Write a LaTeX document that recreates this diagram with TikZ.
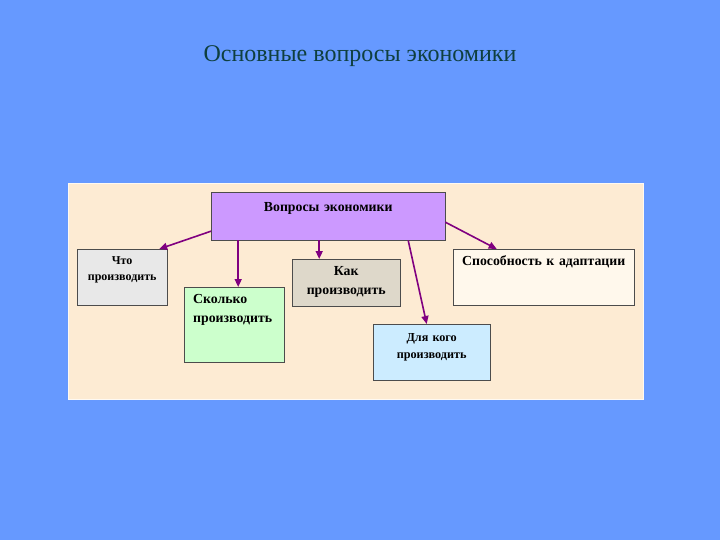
\documentclass[tikz,border=0pt]{standalone}
\usepackage{fontspec}
\setmainfont{Liberation Serif}
\usetikzlibrary{arrows.meta}
\definecolor{slidebg}{HTML}{6699FF}
\definecolor{panelbg}{HTML}{FDEBD3}
\definecolor{titlecol}{HTML}{0F3F3F}
\definecolor{arrcol}{HTML}{800080}

\begin{document}
\begin{tikzpicture}[
  x=1pt, y=-1pt,
  box/.style={
    draw=black!70,
    inner sep=0pt,
    align=center,
    anchor=north west,
    font=\bfseries\fontsize{13.8}{19}\selectfont
  },
  mainbox/.style={box, fill={rgb,255:red,204;green,153;blue,255}},
  chtobox/.style={box, fill=black!9},
  skolkobox/.style={box, fill={rgb,255:red,204;green,255;blue,204}},
  kakbox/.style={box, fill={rgb,255:red,222;green,216;blue,202}},
  dlyabox/.style={box, fill={rgb,255:red,204;green,236;blue,255}},
  adaptbox/.style={box, fill={rgb,255:red,255;green,248;blue,236}},
  arr/.style={
    -{Triangle[length=8pt,width=7pt]},
    line width=1.6pt,
    draw=arrcol
  }
]
\useasboundingbox (0,0) rectangle (720,540);
\fill[slidebg] (0,0) rectangle (720,540);

% Title
\node[text=titlecol, font=\fontsize{24}{28}\selectfont] (title) at (360,56)
  {Основные вопросы экономики};

% Panel
\draw[white!70!panelbg, fill=panelbg] (68,183) rectangle (643,399);

% Boxes
\node[mainbox, text width=234pt, text height=19pt, text depth=29pt] (main)
  at (211,192) {Вопросы экономики};
\node[chtobox, text width=90pt, text height=15pt, text depth=41pt,
  font=\bfseries\fontsize{12}{16}\selectfont] (chto)
  at (77,249) {Что\\производить};
\node[skolkobox, align=left, inner xsep=9pt, text width=82pt,
  text height=16pt, text depth=59pt] (skolko)
  at (184,287) {Сколько\\производить};
\node[kakbox, text width=108pt, text height=16pt, text depth=31pt] (kak)
  at (292,259) {Как\\производить};
\node[dlyabox, text width=117pt, text height=17pt, text depth=39pt,
  font=\bfseries\fontsize{12.2}{17}\selectfont] (dlya)
  at (373,324) {Для кого\\производить};
\node[adaptbox, text width=181pt, text height=16pt, text depth=40pt] (adapt)
  at (453,249) {Способность к адаптации};

% Arrows
\draw[arr] ([yshift=-15pt]main.west) -- ([xshift=37pt]chto.north);
\draw[arr] ([xshift=4pt]skolko.north |- main.south) -- ([xshift=4pt]skolko.north);
\draw[arr] ([xshift=-27pt]kak.north |- main.south) -- ([xshift=-27pt]kak.north);
\draw[arr] ([xshift=80pt]main.south) -- ([xshift=-5pt]dlya.north);
\draw[arr] ([yshift=-6pt]main.east) -- ([xshift=-47pt]adapt.north);

\end{tikzpicture}
\end{document}
